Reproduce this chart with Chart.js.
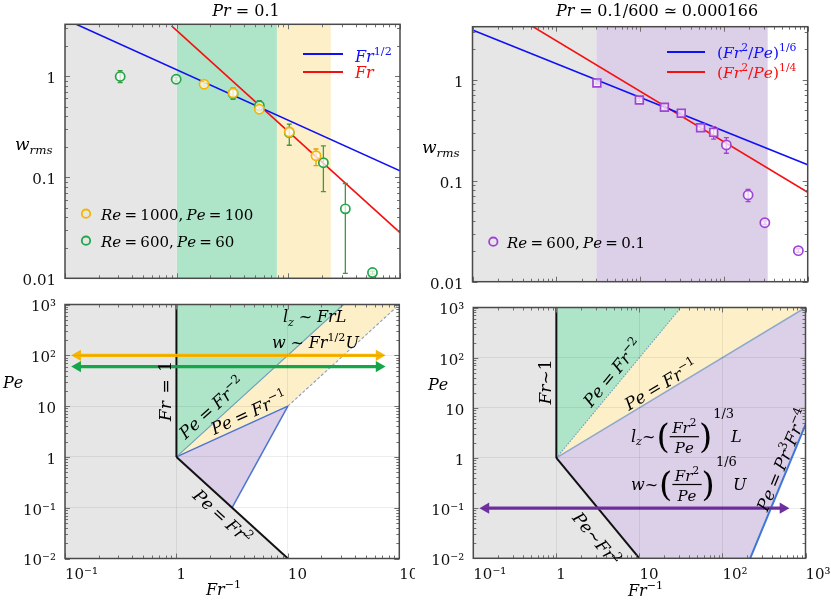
<!DOCTYPE html>
<html><head><meta charset="utf-8">
<script src="https://cdn.jsdelivr.net/npm/chart.js@4.4.1/dist/chart.umd.min.js"></script>
<style>
html,body{margin:0;padding:0;background:#fff;}
#wrap{position:relative;width:831px;height:605px;overflow:hidden;background:#fff;}
canvas{position:absolute;}
</style></head><body>
<div id="wrap">
<canvas id="cTL" width="415" height="295" style="left:0;top:0"></canvas>
<canvas id="cTR" width="416" height="295" style="left:415px;top:0"></canvas>
<canvas id="cBL" width="415" height="310" style="left:0;top:295px"></canvas>
<canvas id="cBR" width="416" height="310" style="left:415px;top:295px"></canvas>
</div>
<script>
// ================= DATA =================
// --- top-left panel: Pr = 0.1 ---
const tlXRange = [0.1, 100];
const tlYRange = [0.01, 3.25];
const tlYTicks = [0.01, 0.1, 1];
const tlYTickLabels = ['0.01', '0.1', '1'];
const tlBandEdges = [0.1, 1, 7.9, 24];          // gray | green | orange
const re1000X  = [1.76, 3.2, 5.5, 10.2, 17.7];
const re1000W  = [0.83, 0.68, 0.47, 0.28, 0.163];
const re1000Lo = [0.80, 0.62, 0.45, 0.25, 0.13];
const re1000Hi = [0.86, 0.74, 0.49, 0.31, 0.19];
const re600X  = [0.312, 0.99, 3.2, 5.5, 10.2, 20.6, 32.4, 56.7];
const re600W  = [0.99, 0.93, 0.67, 0.51, 0.275, 0.139, 0.0486, 0.0114];
const re600Lo = [0.86, 0.89, 0.59, 0.46, 0.207, 0.072, 0.0112, 0.0110];
const re600Hi = [1.13, 0.97, 0.76, 0.57, 0.335, 0.204, 0.0866, 0.0118];
const fitHalfX = [0.1, 100];  const fitHalfW = [3.65, 0.1155];   // Fr^{1/2}
const fitOneX  = [0.9, 100];  const fitOneW  = [3.14, 0.0283];   // Fr

// --- top-right panel: Pr = 0.1/600 ---
const trXRange = [0.1, 1000];
const trYRange = [0.01, 3.35];
const trYTicks = [0.01, 0.1, 1];
const trYTickLabels = ['0.01', '0.1', '1'];
const trBandEdges = [0.1, 3, 333];              // gray | purple
const pe01SqX  = [3.05, 9.8, 19.5, 31, 52.7, 75.5];
const pe01SqW  = [0.93, 0.63, 0.533, 0.465, 0.335, 0.301];
const pe01SqLo = [0.91, 0.61, 0.50, 0.45, 0.32, 0.258];
const pe01SqHi = [0.95, 0.65, 0.57, 0.48, 0.35, 0.343];
const pe01CiX  = [107, 194.5, 308, 773];
const pe01CiW  = [0.226, 0.0722, 0.0384, 0.0203];
const pe01CiLo = [0.187, 0.062, 0.037, 0.0195];
const pe01CiHi = [0.267, 0.082, 0.040, 0.0212];
const fitSixthX  = [0.1, 1000]; const fitSixthW  = [3.1, 0.144];   // (Fr^2/Pe)^{1/6}
const fitFourthX = [0.5, 1000]; const fitFourthW = [3.44, 0.0768]; // (Fr^2/Pe)^{1/4}

// --- bottom panels: regime diagrams (x = Fr^-1, y = Pe) ---
const blXRange = [0.1, 100];
const brXRange = [0.1, 1000];
const bYRange  = [0.01, 1000];
const blXTicks = [0.1, 1, 10, 100];
const blXTickLabels = ['10\u207B\u00B9', '1', '10', '10\u00B2'];
const brXTicks = [0.1, 1, 10, 100, 1000];
const brXTickLabels = ['10\u207B\u00B9', '1', '10', '10\u00B2', '10\u00B3'];
const bYTicks = [0.01, 0.1, 1, 10, 100, 1000];
const bYTickLabels = ['10\u207B\u00B2', '10\u207B\u00B9', '1', '10', '10\u00B2', '10\u00B3'];

const blWhite  = [[3.16,0.1],[10,10],[100,1000],[100,0.01],[10,0.01]];
const blGreen  = [[1,1],[1,1000],[31.6,1000]];
const blOrange = [[1,1],[31.6,1000],[100,1000],[10,10]];
const blPurple = [[1,1],[10,10],[3.16,0.1]];
const blFrOne    = [[1,1],[1,1000]];
const blPeFr2    = [[1,1],[10,0.01]];
const blPeFrm2   = [[1,1],[31.6,1000]];
const blPeFrm1   = [[1,1],[10,10]];
const blPurpleEdge = [[3.16,0.1],[10,10]];
const blPrFrm2   = [[10,10],[100,1000]];
const blArrowRe1000 = [[0.13,100],[65.8,100]];
const blArrowRe600  = [[0.13,60],[65.8,60]];

const brWhite  = [[215.6,0.01],[1000,4.63],[1000,0.01]];
const brGreen  = [[1,1],[1,1000],[31.6,1000]];
const brOrange = [[1,1],[31.6,1000],[1000,1000]];
const brPurple = [[1,1],[1000,1000],[1000,4.63],[215.6,0.01],[10,0.01]];
const brFrOne  = [[1,1],[1,1000]];
const brPeFr2  = [[1,1],[10,0.01]];
const brPeFrm2 = [[1,1],[31.6,1000]];
const brPeFrm1 = [[1,1],[1000,1000]];
const brPr3Fr4 = [[215.6,0.01],[1000,4.63]];
const brArrowPe01 = [[0.142,0.1],[535,0.1]];

// ================= STYLE =================
const SERIF = '"DejaVu Serif", "Liberation Serif", serif';
const C_GRAY = '#e6e6e6', C_GREEN = '#aee5c8', C_ORANGE = '#fdf0c9', C_PURPLE = '#dccfe8';
const C_BLUE = '#1010f5', C_RED = '#f51010';
const M_ORANGE = '#f6b400', M_GREEN = '#22a64a', E_GREEN = '#3f9a3a', M_PURPLE = '#a044d4';

// ================= HELPERS =================
function pts(arr){ return arr.map(p => ({x:p[0], y:p[1]})); }
function zip(xs, ys){ return xs.map((x,i) => ({x, y:ys[i]})); }
function pairs(xs, ys){ return xs.map((x,i) => [x, ys[i]]); }
function polyDS(arr, color, order){
  return {type:'line', data:pts(arr), fill:'shape', backgroundColor:color, borderWidth:0,
          borderColor:'rgba(0,0,0,0)', pointRadius:0, order};
}
function lineDS(arr, color, width, order, dash){
  return {type:'line', data:pts(arr), fill:false, borderColor:color, borderWidth:width,
          borderDash:dash||[], pointRadius:0, order, borderCapStyle:'butt'};
}
function bandDS(x0, x1, yr, color, order){
  return polyDS([[x0,yr[0]],[x0,yr[1]],[x1,yr[1]],[x1,yr[0]]], color, order);
}
function arrowDS(arr, color){
  return {type:'line', data:pts(arr), fill:false, borderColor:color, borderWidth:3.2,
          pointStyle:'triangle', pointRadius:6.5, pointBorderWidth:0,
          pointBackgroundColor:color, pointBorderColor:color,
          pointRotation:(c)=> c.dataIndex===0 ? 270 : 90, order:2};
}
function markerDS(xs, ys, lo, hi, color, ecolor, style, radius, order){
  return {type:'line', data:zip(xs,ys), showLine:false, pointStyle:style, pointRadius:radius,
          pointBorderWidth:1.7, pointBorderColor:color, pointBackgroundColor:'rgba(255,255,255,0.72)',
          errLo:lo, errHi:hi, errColor:ecolor, order};
}

function parseMath(s){
  const out=[]; let i=0;
  const push=(str,lvl)=>{ for(const ch of str) out.push({ch, lvl, it:/[A-Za-z]/.test(ch)}); };
  while(i<s.length){
    const c=s[i];
    if((c==='^'||c==='_') && s[i+1]==='{'){ const j=s.indexOf('}',i); push(s.slice(i+2,j), c==='^'?1:-1); i=j+1; }
    else { push(c,0); i++; }
  }
  return out;
}
function layoutMath(ctx, s, size, sp){
  const laid=[]; let w=0;
  for(const it of parseMath(s)){
    const sz = it.lvl ? size*0.7 : size;
    const font = (it.it?'italic ':'') + sz.toFixed(2) + 'px ' + SERIF;
    ctx.font = font;
    const cw = it.ch===' ' ? size*(sp==null?0.22:sp) : ctx.measureText(it.ch).width;
    laid.push({ch:it.ch, font, x:w, dy: it.lvl===1 ? -size*0.42 : it.lvl===-1 ? size*0.22 : 0});
    w += cw;
  }
  return {laid, w};
}
function drawMath(ctx, s, x, y, o){
  o=o||{}; const size=o.size||16;
  const {laid, w} = layoutMath(ctx, s, size, o.sp);
  ctx.save(); ctx.translate(x,y); if(o.rot) ctx.rotate(o.rot*Math.PI/180);
  const x0 = o.align==='center' ? -w/2 : o.align==='right' ? -w : 0;
  const yb = o.vcenter ? size*0.33 : 0;
  ctx.fillStyle = o.color||'#000'; ctx.textBaseline='alphabetic'; ctx.textAlign='left';
  for(const l of laid){ if(l.ch===' ') continue; ctx.font=l.font; ctx.fillText(l.ch, x0+l.x, yb+l.dy); }
  ctx.restore();
  return w;
}

function logVals(min, max){
  const r=[];
  for(let d=Math.floor(Math.log10(min)); d<=Math.ceil(Math.log10(max)); d++)
    for(let k=1;k<=9;k++){ const v=k*Math.pow(10,d); if(v>=min*0.999 && v<=max*1.001) r.push([v,k===1]); }
  return r;
}

function makePanel(id, P){
  const canvas = document.getElementById(id);
  const deco = {
    id: 'deco_'+id,
    beforeDatasetsDraw(chart){
      if(!P.areaFill) return;
      const a=chart.chartArea, c=chart.ctx;
      c.save(); c.fillStyle=P.areaFill; c.fillRect(a.left,a.top,a.right-a.left,a.bottom-a.top); c.restore();
    },
    beforeDatasetDraw(chart, args){
      const ds = chart.data.datasets[args.index];
      if(!ds.errLo) return;
      const c=chart.ctx, xs=chart.scales.x, ys=chart.scales.y;
      c.save(); c.strokeStyle=ds.errColor; c.lineWidth=1.3; c.beginPath();
      ds.data.forEach((p,i)=>{
        const px=xs.getPixelForValue(p.x), y1=ys.getPixelForValue(ds.errLo[i]), y2=ys.getPixelForValue(ds.errHi[i]);
        c.moveTo(px,y1); c.lineTo(px,y2);
        c.moveTo(px-2.5,y1); c.lineTo(px+2.5,y1);
        c.moveTo(px-2.5,y2); c.lineTo(px+2.5,y2);
      });
      c.stroke(); c.restore();
    },
    afterDraw(chart){
      const c=chart.ctx, a=chart.chartArea, xs=chart.scales.x, ys=chart.scales.y;
      c.save(); c.strokeStyle='#707070'; c.lineWidth=1; c.beginPath();
      for(const [v,maj] of logVals(xs.min, xs.max)){
        const x=Math.round(xs.getPixelForValue(v))+0.5, L=maj?5:3;
        c.moveTo(x,a.bottom); c.lineTo(x,a.bottom-L); c.moveTo(x,a.top); c.lineTo(x,a.top+L);
      }
      for(const [v,maj] of logVals(ys.min, ys.max)){
        const y=Math.round(ys.getPixelForValue(v))+0.5, L=maj?5:3;
        c.moveTo(a.left,y); c.lineTo(a.left+L,y); c.moveTo(a.right,y); c.lineTo(a.right-L,y);
      }
      c.stroke();
      c.strokeStyle='#4a4a4a'; c.lineWidth=1.5;
      c.strokeRect(a.left, a.top, a.right-a.left, a.bottom-a.top);
      c.restore();
      c.save(); c.translate(-P.ox, -P.oy); P.draw(c, chart); c.restore();
    }
  };
  return new Chart(canvas, {
    type:'line',
    data:{datasets:P.datasets},
    options:{
      responsive:false, maintainAspectRatio:false, animation:false, devicePixelRatio:1, events:[],
      layout:{padding:{top:P.pt, right:P.pr, left:0, bottom:0}},
      elements:{line:{tension:0}},
      plugins:{legend:{display:false}, tooltip:{enabled:false}, title:{display:false}},
      scales:{
        x:{type:'logarithmic', min:P.xr[0], max:P.xr[1],
           afterFit(s){ s.height=P.xh; s.paddingLeft=0; s.paddingRight=0; },
           afterBuildTicks(s){ s.ticks = P.xTicks.map(v=>({value:v})); },
           ticks:{display:!!P.xLabels, autoSkip:false, maxRotation:0, minRotation:0, align:'start', padding:8,
                  font:{family:SERIF, size:15}, color:'#111',
                  callback:(v,i)=> P.xLabels ? P.xLabels[i] : ''},
           grid:{display:!!P.grid, color:'rgba(0,0,0,0.07)', drawTicks:false, z:1},
           border:{display:false}},
        y:{type:'logarithmic', min:P.yr[0], max:P.yr[1],
           afterFit(s){ s.width=P.yw; s.paddingTop=0; s.paddingBottom=0; },
           afterBuildTicks(s){ s.ticks = P.yTicks.map(v=>({value:v})); },
           ticks:{autoSkip:false, padding:9, labelOffset:3, font:{family:SERIF, size:15}, color:'#111',
                  callback:(v,i)=> P.yLabels[i]},
           grid:{display:!!P.grid, color:'rgba(0,0,0,0.07)', drawTicks:false, z:1},
           border:{display:false}}
      }
    },
    plugins:[deco]
  });
}

// ================= PANELS =================
makePanel('cTL', {
  ox:0, oy:0, pt:24.3, pr:15, yw:65, xh:16.7,
  xr:tlXRange, yr:tlYRange, xTicks:[0.1,1,10,100], yTicks:tlYTicks, yLabels:tlYTickLabels,
  datasets:[
    bandDS(tlBandEdges[0], tlBandEdges[1], tlYRange, C_GRAY, 30),
    bandDS(tlBandEdges[1], tlBandEdges[2], tlYRange, C_GREEN, 30),
    bandDS(tlBandEdges[2], tlBandEdges[3], tlYRange, C_ORANGE, 30),
    lineDS(pairs(fitHalfX, fitHalfW), C_BLUE, 1.6, 10),
    lineDS(pairs(fitOneX, fitOneW), C_RED, 1.6, 10),
    markerDS(re600X, re600W, re600Lo, re600Hi, M_GREEN, E_GREEN, 'circle', 4.6, 3),
    markerDS(re1000X, re1000W, re1000Lo, re1000Hi, M_ORANGE, '#e0a000', 'circle', 4.6, 2)
  ],
  draw(c){
    drawMath(c, 'Pr = 0.1', 246, 15.5, {size:16, align:'center', sp:0.32});
    drawMath(c, 'w_{rms}', 15, 150, {size:17});
    c.lineWidth=1.8;
    c.strokeStyle=C_BLUE; c.beginPath(); c.moveTo(303,54); c.lineTo(343,54); c.stroke();
    c.strokeStyle=C_RED; c.beginPath(); c.moveTo(303,72); c.lineTo(343,72); c.stroke();
    drawMath(c, 'Fr^{1/2}', 355, 61.5, {size:16, color:C_BLUE});
    drawMath(c, 'Fr', 355, 78, {size:16, color:C_RED});
    c.lineWidth=1.8;
    c.strokeStyle=M_ORANGE; c.beginPath(); c.arc(86,213.7,4.2,0,Math.PI*2); c.stroke();
    c.strokeStyle=M_GREEN; c.beginPath(); c.arc(86,240.7,4.2,0,Math.PI*2); c.stroke();
    drawMath(c, 'Re = 1000, Pe = 100', 101, 220, {size:15});
    drawMath(c, 'Re = 600, Pe = 60', 101, 246.5, {size:15});
  }
});

makePanel('cTR', {
  ox:415, oy:0, pt:26.7, pr:23.3, yw:57.5, xh:13.3,
  xr:trXRange, yr:trYRange, xTicks:[0.1,1,10,100,1000], yTicks:trYTicks, yLabels:trYTickLabels,
  datasets:[
    bandDS(trBandEdges[0], trBandEdges[1], trYRange, C_GRAY, 30),
    bandDS(trBandEdges[1], trBandEdges[2], trYRange, C_PURPLE, 30),
    lineDS(pairs(fitSixthX, fitSixthW), C_BLUE, 1.6, 10),
    lineDS(pairs(fitFourthX, fitFourthW), C_RED, 1.6, 10),
    markerDS(pe01SqX, pe01SqW, pe01SqLo, pe01SqHi, M_PURPLE, M_PURPLE, 'rect', 5.5, 2),
    markerDS(pe01CiX, pe01CiW, pe01CiLo, pe01CiHi, M_PURPLE, M_PURPLE, 'circle', 4.6, 2)
  ],
  draw(c){
    drawMath(c, 'Pr = 0.1/600 \u2243 0.000166', 657, 16, {size:16, align:'center', sp:0.3});
    drawMath(c, 'w_{rms}', 422, 153, {size:17});
    c.lineWidth=1.8;
    c.strokeStyle=C_BLUE; c.beginPath(); c.moveTo(667,52); c.lineTo(705,52); c.stroke();
    c.strokeStyle=C_RED; c.beginPath(); c.moveTo(667,72); c.lineTo(705,72); c.stroke();
    drawMath(c, '(Fr^{2}/Pe)^{1/6}', 717, 58, {size:15.5, color:C_BLUE});
    drawMath(c, '(Fr^{2}/Pe)^{1/4}', 717, 78, {size:15.5, color:C_RED});
    c.strokeStyle=M_PURPLE; c.lineWidth=1.8; c.beginPath(); c.arc(493.3,241.7,4.2,0,Math.PI*2); c.stroke();
    drawMath(c, 'Re = 600, Pe = 0.1', 507, 248, {size:15});
  }
});

makePanel('cBL', {
  ox:0, oy:295, pt:9.5, pr:15.7, yw:65, xh:46.5, grid:true, areaFill:C_GRAY,
  xr:blXRange, yr:bYRange, xTicks:blXTicks, xLabels:blXTickLabels, yTicks:bYTicks, yLabels:bYTickLabels,
  datasets:[
    polyDS(blWhite, '#ffffff', 40),
    polyDS(blGreen, C_GREEN, 35),
    polyDS(blOrange, C_ORANGE, 35),
    polyDS(blPurple, C_PURPLE, 35),
    lineDS(blPeFrm2, '#6f9fb8', 1.1, 20),
    lineDS(blPrFrm2, '#8aa2c0', 1.1, 20, [3,2]),
    lineDS(blPeFrm1, '#4d74d0', 1.5, 20),
    lineDS(blPurpleEdge, '#4d74d0', 1.5, 20),
    lineDS(blFrOne, '#111111', 2, 15),
    lineDS(blPeFr2, '#111111', 2, 15),
    arrowDS(blArrowRe1000, '#f7b500'),
    arrowDS(blArrowRe600, '#15a64a')
  ],
  draw(c){
    drawMath(c, 'Pe', 3, 388, {size:16});
    drawMath(c, 'Fr^{\u22121}', 206, 595, {size:16});
    drawMath(c, 'Fr = 1', 165, 391, {size:17, rot:-90, align:'center', vcenter:true, sp:0.45});
    drawMath(c, 'Pe = Fr^{\u22122}', 212, 408, {size:17, rot:-42.3, align:'center', vcenter:true, sp:0.25});
    drawMath(c, 'Pe = Fr^{\u22121}', 249, 413, {size:17, rot:-24.5, align:'center', vcenter:true, sp:0.25});
    drawMath(c, 'Pe = Fr^{2}', 222, 517, {size:17, rot:42.3, align:'center', vcenter:true, sp:0.25});
    drawMath(c, 'l_{z} ~ FrL', 283, 322, {size:16, sp:0.3});
    drawMath(c, 'w ~ Fr^{1/2}U', 272, 348, {size:16, sp:0.3});
  }
});

function drawFrac(c, x, yBar, prefix, sup, suffix, suffixX){
  let w = drawMath(c, prefix, x, yBar+5, {size:16, sp:0.1});
  let px = x + w + 1;
  c.fillStyle='#000'; c.font='34px '+SERIF; c.textBaseline='alphabetic'; c.textAlign='left';
  c.fillText('(', px, yBar+11);
  const pw = c.measureText('(').width; px += pw;
  const numW = layoutMath(c, 'Fr^{2}', 15).w, denW = layoutMath(c, 'Pe', 15).w;
  const fw = Math.max(numW, denW) + 5;
  drawMath(c, 'Fr^{2}', px+fw/2, yBar-4, {size:15, align:'center'});
  drawMath(c, 'Pe', px+fw/2, yBar+16, {size:15, align:'center'});
  c.fillStyle='#000'; c.fillRect(px, yBar-0.6, fw, 1.2);
  px += fw;
  c.font='34px '+SERIF; c.fillText(')', px, yBar+11);
  px += pw;
  drawMath(c, sup, px+1, yBar-19, {size:13});
  drawMath(c, suffix, suffixX, yBar+5, {size:16});
}
makePanel('cBR', {
  ox:415, oy:295, pt:12.5, pr:25.5, yw:58.3, xh:46.7, grid:true, areaFill:C_GRAY,
  xr:brXRange, yr:bYRange, xTicks:brXTicks, xLabels:brXTickLabels, yTicks:bYTicks, yLabels:bYTickLabels,
  datasets:[
    polyDS(brWhite, '#ffffff', 40),
    polyDS(brGreen, C_GREEN, 35),
    polyDS(brOrange, C_ORANGE, 35),
    polyDS(brPurple, C_PURPLE, 35),
    lineDS(brPeFrm2, '#6f9fb8', 1.1, 20, [1.5,1.5]),
    lineDS(brPeFrm1, '#8ea8cc', 1.5, 20),
    lineDS(brPr3Fr4, '#3f76d8', 2, 20),
    lineDS(brFrOne, '#111111', 2, 15),
    lineDS(brPeFr2, '#111111', 2, 15),
    arrowDS(brArrowPe01, '#7030a0')
  ],
  draw(c){
    drawMath(c, 'Pe', 428, 390, {size:16});
    drawMath(c, 'Fr^{\u22121}', 628, 596, {size:16});
    drawMath(c, 'Fr~1', 545, 382, {size:17, rot:-90, align:'center', vcenter:true});
    drawMath(c, 'Pe = Fr^{\u22122}', 613, 373, {size:17, rot:-50.3, align:'center', vcenter:true, sp:0.25});
    drawMath(c, 'Pe = Fr^{\u22121}', 661, 385, {size:17, rot:-31, align:'center', vcenter:true, sp:0.25});
    drawMath(c, 'Pe~Fr^{2}', 596, 539, {size:17, rot:50.3, align:'center', vcenter:true});
    drawMath(c, 'Pe = Pr^{3}Fr^{\u22124}', 783, 460, {size:17, rot:-67.5, align:'center', vcenter:true, sp:0.25});
    drawFrac(c, 631, 436.7, 'l_{z}~', '1/3', 'L', 731);
    drawFrac(c, 631, 484.5, 'w~', '1/6', 'U', 733);
  }
});
</script>
</body></html>
